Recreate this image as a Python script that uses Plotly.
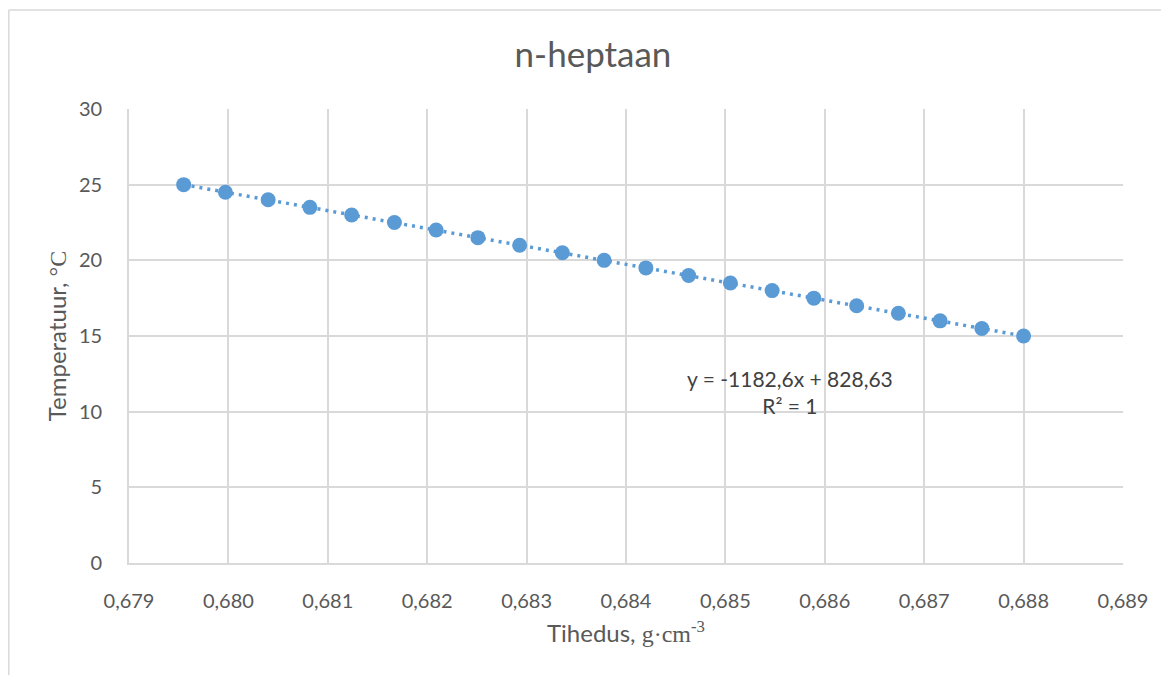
import plotly.graph_objects as go

# Data
density = [0.67955, 0.67997, 0.68040, 0.68082, 0.68124, 0.68167, 0.68209,
           0.68251, 0.68293, 0.68336, 0.68378, 0.68420, 0.68463, 0.68505,
           0.68547, 0.68589, 0.68632, 0.68674, 0.68716, 0.68758, 0.68800]
temperature = [25, 24.5, 24, 23.5, 23, 22.5, 22, 21.5, 21, 20.5, 20,
               19.5, 19, 18.5, 18, 17.5, 17, 16.5, 16, 15.5, 15]
x_ticks = [0.679, 0.680, 0.681, 0.682, 0.683, 0.684, 0.685, 0.686, 0.687, 0.688, 0.689]
y_ticks = [0, 5, 10, 15, 20, 25, 30]

BLUE = "#5B9BD5"
GRID = "#D9D9D9"
TXT = "#595959"
FONT = "Lato"

# page body has an 8px margin: figure is placed at (8, 8)
W, H = 1161, 667
L, R, T, B = 121, 46, 101, 112
PW, PH = W - L - R, H - T - B

fig = go.Figure()
# dotted linear trendline
fig.add_trace(go.Scatter(
    x=density, y=temperature, mode="lines",
    line=dict(color=BLUE, width=3.5, dash="3px,5px"),
    hoverinfo="skip", showlegend=False))
fig.add_trace(go.Scatter(
    x=density, y=temperature, mode="markers",
    marker=dict(color=BLUE, size=15, line=dict(width=0)),
    showlegend=False))

fig.update_layout(
    width=W, height=H,
    margin=dict(l=L, r=R, t=T, b=B),
    paper_bgcolor="white", plot_bgcolor="white",
    separators=", ",
    font=dict(family=FONT, color=TXT, size=20),
    title=dict(text="n-heptaan", x=585 / W, xanchor="center",
               y=1 - 47 / H, yanchor="middle",
               font=dict(size=35, color=TXT, family=FONT)),
    xaxis=dict(range=[0.679, 0.689], tickvals=x_ticks, tickformat=".3f",
               showgrid=True, gridcolor=GRID, gridwidth=1.7,
               showline=True, linecolor=GRID, linewidth=1.7,
               zeroline=False, ticks="", ticklabelstandoff=19,
               tickfont=dict(size=20, color=TXT),
               title=dict(text='Tihedus, <span style="font-family:Liberation Serif">g·cm<sup>-3</sup></span>',
                          font=dict(size=24, color=TXT), standoff=14)),
    yaxis=dict(range=[0, 30], tickvals=y_ticks,
               showgrid=True, gridcolor=GRID, gridwidth=1.7,
               showline=True, linecolor=GRID, linewidth=1.7,
               zeroline=False, ticks="", ticklabelstandoff=21,
               tickfont=dict(size=20, color=TXT),
               title=dict(text='Temperatuur, <span style="font-family:Liberation Serif">°C</span>',
                          font=dict(size=24, color=TXT), standoff=6)),
)

fig.add_annotation(
    x=0.68565, y=11.3, xref="x", yref="y",
    text="y = -1182,6x + 828,63<br>R² = 1",
    showarrow=False, align="center",
    font=dict(size=21, color="#404040", family=FONT))

# outer chart border (top and left visible)
bx = 0.8 - L
by = 2
fig.add_shape(type="line", xref="paper", yref="paper",
              x0=bx / PW, x1=(W + 10 - L) / PW,
              y0=(T + PH - by) / PH, y1=(T + PH - by) / PH,
              line=dict(color=GRID, width=1.5))
fig.add_shape(type="line", xref="paper", yref="paper",
              x0=bx / PW, x1=bx / PW,
              y0=(T + PH - by) / PH, y1=-(B + 10) / PH,
              line=dict(color=GRID, width=1.5))

fig.write_html("out.html")
